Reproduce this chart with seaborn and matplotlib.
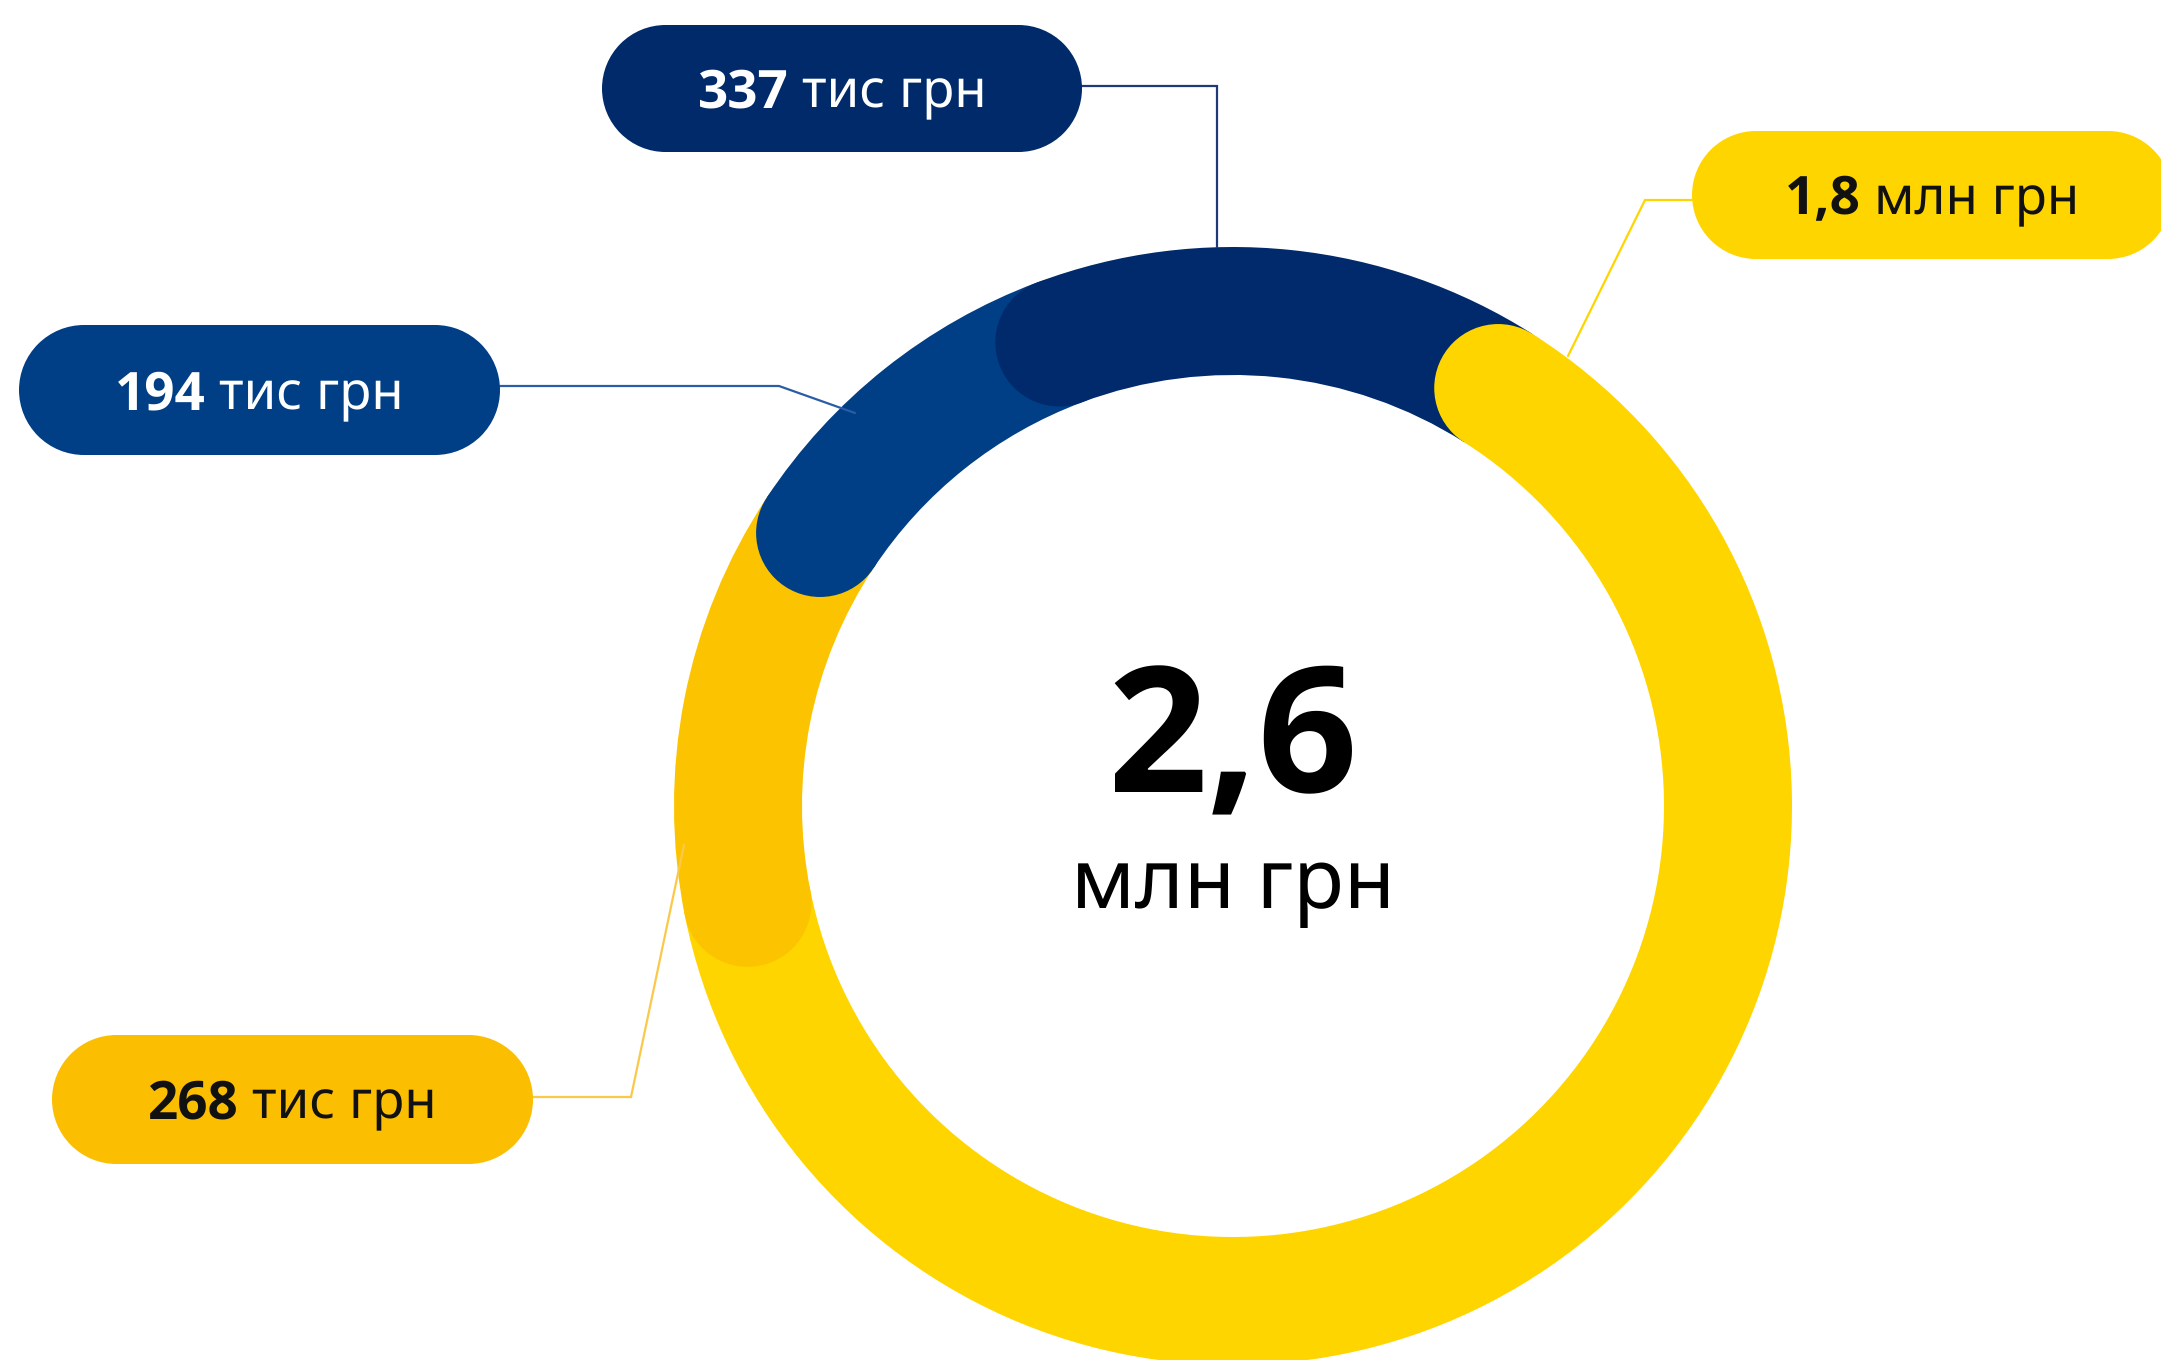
import matplotlib
matplotlib.use("Agg")
import numpy as np
import matplotlib.pyplot as plt
from matplotlib import font_manager as fm
from matplotlib.patches import Circle, Rectangle
import seaborn as sns

# ring segments, clockwise from the upper right
numbers = ["1,8", "268", "194", "337"]
units = ["млн грн", "тис грн", "тис грн", "тис грн"]
values = [1800, 268, 194, 337]  # тис грн
total_number = "2,6"
total_unit = "млн грн"

ring_colors = ["#FFD500", "#FCC400", "#003E86", "#002A6B"]
box_colors = ["#FFD500", "#FCBE00", "#003E86", "#002A6A"]
text_colors = ["#111111", "#111111", "white", "white"]

W, H = 2161, 1360
sns.set_theme(style="white")
plt.rcParams["font.family"] = ["Noto Sans", "DejaVu Sans"]
plt.rcParams["text.hinting"] = "no_hinting"
plt.rcParams["text.hinting_factor"] = 1

REG = fm.FontProperties(fname=fm.findfont(fm.FontProperties(family="Noto Sans")))
BOLD = fm.FontProperties(fname=fm.findfont(fm.FontProperties(family="Open Sans", weight="bold")))

fig = plt.figure(figsize=(W / 100, H / 100), dpi=100)
ax = fig.add_axes([0, 0, 1, 1])

# ring geometry (pixels, y measured from the top of the picture)
cx, cy = 1233, H - 806
r_out, ring_w = 559, 128
r_mid = r_out - ring_w / 2
cap_pad = 13  # degrees added to every segment for its rounded cap

tot = sum(values)
spans = [v / tot * (360 - cap_pad * len(values)) + cap_pad for v in values]
wedges, _ = ax.pie(spans, colors=ring_colors, startangle=57.6, counterclock=False,
                   center=(cx, cy), radius=r_out,
                   wedgeprops=dict(width=ring_w, linewidth=0))

# rounded cap at the start of every segment, lying over the previous one
for w in wedges:
    a = np.deg2rad(w.theta2)
    ax.add_patch(Circle((cx + r_mid * np.cos(a), cy + r_mid * np.sin(a)), ring_w / 2,
                        facecolor=w.get_facecolor(), lw=0, zorder=w.get_zorder() + 0.5))

# pill boxes: x0, x1, y0, y1 (top-based pixels)
boxes = [(1692, 2172, 131, 259), (52, 533, 1035, 1164),
         (19, 500, 325, 455), (602, 1082, 25, 152)]
leaders = [[(1692, 200), (1645, 200), (1568, 356)],
           [(533, 1097), (631, 1097), (684, 845)],
           [(500, 386), (779, 386), (855, 413)],
           [(1082, 86), (1217, 86), (1217, 247)]]
leader_colors = ["#FFD500", "#FCC84A", "#2A5DA6", "#1E3A78"]


def pill(x0, x1, y0, y1, color):
    h = y1 - y0
    r = h / 2
    yc = H - (y0 + y1) / 2
    ax.add_patch(Rectangle((x0 + r, yc - r), x1 - x0 - 2 * r, h, facecolor=color, lw=0, zorder=6))
    ax.add_patch(Circle((x0 + r, yc), r, facecolor=color, lw=0, zorder=6))
    ax.add_patch(Circle((x1 - r, yc), r, facecolor=color, lw=0, zorder=6))


renderer = fig.canvas.get_renderer()
for (x0, x1, y0, y1), pts, num, unit, bc, tc, lc in zip(
        boxes, leaders, numbers, units, box_colors, text_colors, leader_colors):
    xs = [p[0] for p in pts]
    ys = [H - p[1] for p in pts]
    ax.plot(xs, ys, color=lc, lw=1.6, zorder=5, solid_joinstyle="miter")
    pill(x0, x1, y0, y1, bc)
    base = H - ((y0 + y1) / 2 + 19)
    t1 = ax.text(0, base, num, fontproperties=BOLD, fontsize=38, color=tc,
                 va="baseline", ha="left", zorder=7)
    t2 = ax.text(0, base, unit, fontproperties=REG, fontsize=38, color=tc,
                 va="baseline", ha="left", zorder=7)
    w1 = t1.get_window_extent(renderer).width
    w2 = t2.get_window_extent(renderer).width
    gap = 13
    start = (x0 + x1) / 2 - (w1 + gap + w2) / 2
    t1.set_x(start)
    t2.set_x(start + w1 + gap)

# total in the middle
ax.text(cx, H - 792, total_number, fontproperties=BOLD, fontsize=126,
        color="black", ha="center", va="baseline", zorder=7)
ax.text(cx, H - 908, total_unit, fontproperties=REG, fontsize=60, color="black",
        ha="center", va="baseline", zorder=7)

ax.set_xlim(0, W)
ax.set_ylim(0, H)
ax.axis("off")
fig.savefig("out.png", dpi=100, facecolor="white")
